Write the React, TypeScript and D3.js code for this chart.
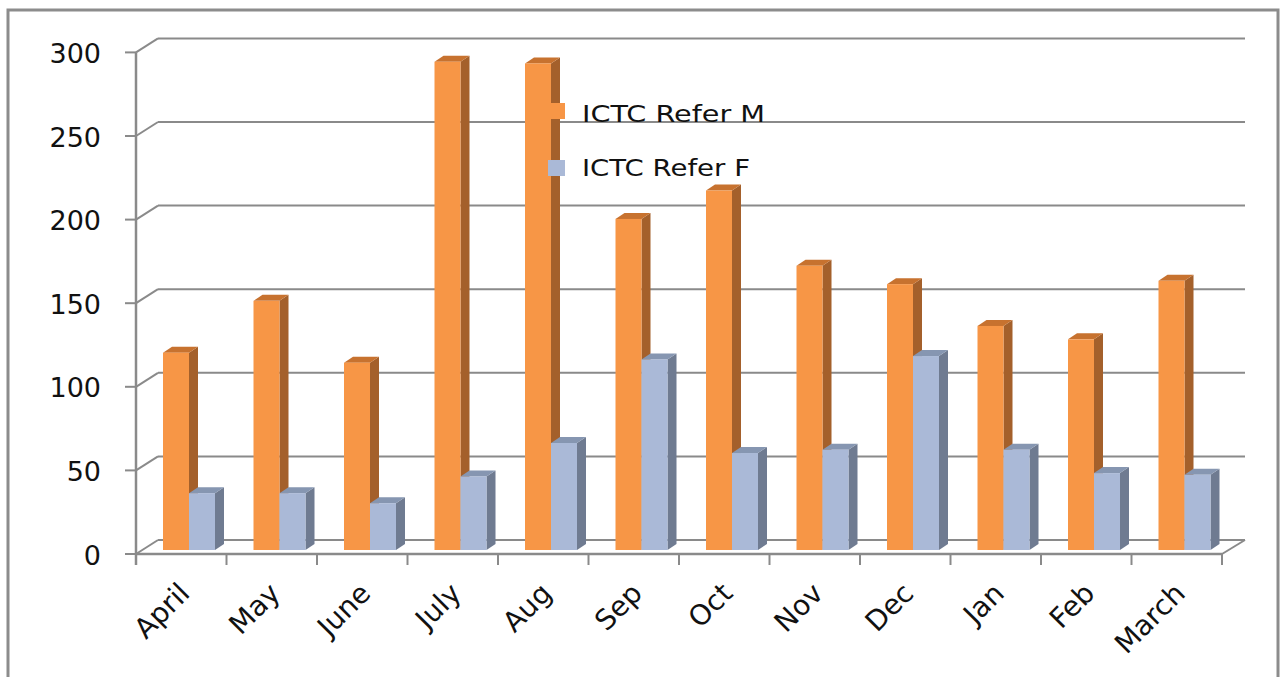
import React from "react";
import * as d3 from "d3";

const categories = ["April", "May", "June", "July", "Aug", "Sep", "Oct", "Nov", "Dec", "Jan", "Feb", "March"];
const referM = [118, 149, 112, 292, 291, 198, 215, 170, 159, 134, 126, 161];
const referF = [34, 34, 28, 44, 64, 114, 58, 60, 116, 60, 46, 45];
const yTicks = [0, 50, 100, 150, 200, 250, 300];
const seriesNames = ["ICTC Refer M", "ICTC Refer F"];

const W = 1286;
const H = 677;
const FONT = "'DejaVu Sans', Verdana, sans-serif";

export default function App() {
  const x = d3.scaleBand<string>().domain(categories).range([136, 1222]).paddingInner(0).paddingOuter(0);
  const yFront = d3.scaleLinear().domain([0, 300]).range([554, 52.4]);
  const yBack = d3.scaleLinear().domain([0, 300]).range([540, 38.4]);
  const yBar = d3.scaleLinear().domain([0, 300]).range([550, 48.4]);
  const wallDx = 22;
  const barW = 26;
  const dDx = 9;
  const dDy = -6;
  const grid = "#8a8a8a";

  const series = [
    { values: referM, offset: 27, front: "#F79646", side: "#A4602B", top: "#C7722F" },
    { values: referF, offset: 53, front: "#AAB9D7", side: "#6F7B91", top: "#8696B1" },
  ];

  const bar = (xl: number, v: number, s: typeof series[0], key: string) => {
    const y0 = yBar(0);
    const yt = yBar(v);
    const xr = xl + barW;
    return (
      <g key={key}>
        <polygon points={`${xr},${yt} ${xr + dDx},${yt + dDy} ${xr + dDx},${y0 + dDy} ${xr},${y0}`} fill={s.side} />
        <polygon points={`${xl},${yt} ${xr},${yt} ${xr + dDx},${yt + dDy} ${xl + dDx},${yt + dDy}`} fill={s.top} />
        <rect x={xl} y={yt} width={barW} height={y0 - yt} fill={s.front} />
      </g>
    );
  };

  return (
    <svg width={W} height={H} style={{ position: "absolute", left: 0, top: 0, background: "#fff" }}>
      <rect x={0} y={0} width={W} height={H} fill="#fff" />
      <rect x={8} y={10} width={1270} height={700} fill="none" stroke="#8c8c8c" strokeWidth={3} />

      {/* back wall gridlines and left wall diagonals */}
      {yTicks.map((t) => (
        <g key={"g" + t}>
          {t > 0 && (
            <line x1={136 + wallDx} x2={1245} y1={yBack(t)} y2={yBack(t)} stroke={grid} strokeWidth={2} />
          )}
          <line x1={136} y1={yFront(t)} x2={136 + wallDx} y2={yBack(t)} stroke={grid} strokeWidth={2} />
          <line x1={125} x2={136} y1={yFront(t)} y2={yFront(t)} stroke={grid} strokeWidth={2} />
          <text
            x={101}
            y={yFront(t) + 10.5}
            textAnchor="end"
            fontFamily={FONT}
            fontSize={27}
            fill="#111"
          >
            {t}
          </text>
        </g>
      ))}

      {/* floor */}
      <line x1={136 + wallDx} x2={1245} y1={yBack(0)} y2={yBack(0)} stroke={grid} strokeWidth={2} />
      <line x1={1222} y1={yFront(0)} x2={1245} y2={yBack(0)} stroke={grid} strokeWidth={2} />
      <line x1={136} x2={1222} y1={yFront(0)} y2={yFront(0)} stroke={grid} strokeWidth={2.5} />
      <line x1={136} x2={136} y1={yFront(300)} y2={565} stroke={grid} strokeWidth={2.5} />
      {categories.map((c) => (
        <line key={"t" + c} x1={(x(c) as number) + x.bandwidth()} x2={(x(c) as number) + x.bandwidth()} y1={554} y2={565} stroke={grid} strokeWidth={2} />
      ))}

      {/* bars */}
      {categories.map((c, i) => (
        <g key={"b" + c}>
          {series.map((s, j) => bar((x(c) as number) + s.offset, s.values[i], s, c + j))}
        </g>
      ))}

      {/* x labels */}
      {categories.map((c) => {
        const cx = (x(c) as number) + x.bandwidth() / 2 + 10;
        const cy = 595;
        return (
          <text
            key={"l" + c}
            x={cx}
            y={cy}
            transform={`rotate(-45 ${cx} ${cy})`}
            textAnchor="end"
            fontFamily={FONT}
            fontSize={28}
            fill="#111"
          >
            {c}
          </text>
        );
      })}

      {/* legend */}
      <rect x={548} y={103} width={17} height={16} fill={series[0].front} />
      <text x={582} y={121.5} fontFamily={FONT} fontSize={23} fill="#111" textLength={183} lengthAdjust="spacingAndGlyphs">
        {seriesNames[0]}
      </text>
      <rect x={548} y={160} width={17} height={16} fill={series[1].front} />
      <text x={582} y={175.5} fontFamily={FONT} fontSize={23} fill="#111" textLength={168} lengthAdjust="spacingAndGlyphs">
        {seriesNames[1]}
      </text>
    </svg>
  );
}
